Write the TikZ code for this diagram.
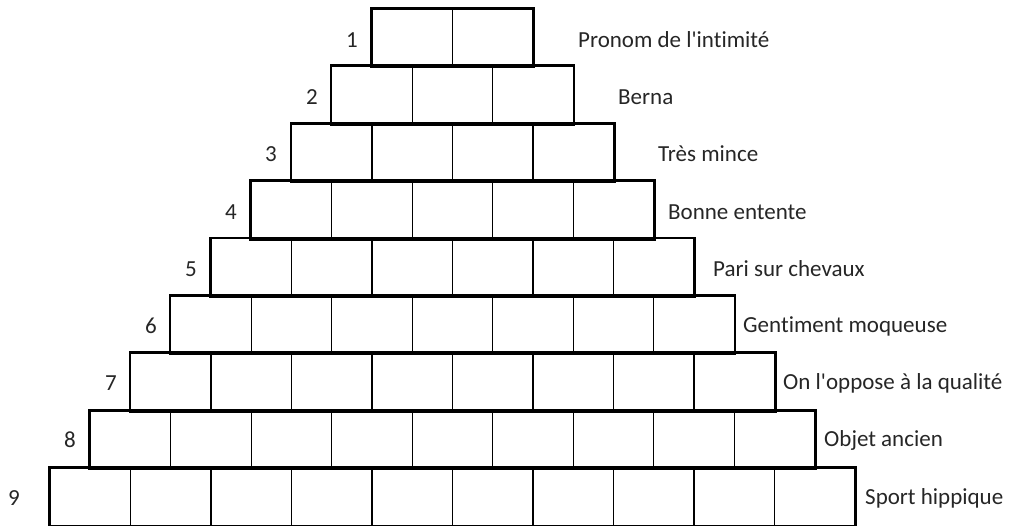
\documentclass[tikz,border=0pt]{standalone}
\usepackage{fontspec}
\setmainfont{Carlito}[Ligatures={TeXOff,NoCommon}]
\begin{document}
\begin{tikzpicture}[x=1pt,y=-1pt,
  cell/.style={draw=black,line width=1.4pt,minimum width=80.5pt,minimum height=57.4pt,inner sep=0pt,anchor=north west},
  rowbox/.style={draw=black,line width=2.6pt},
  num/.style={font=\fontsize{23}{25}\selectfont,text=black!85,anchor=center,inner sep=0pt},
  clue/.style={font=\fontsize{23}{25}\selectfont,text=black!85,anchor=west,inner sep=0pt}]
\useasboundingbox (0,0) rectangle (1011,525);
\foreach \r in {1,...,9}{
  \pgfmathsetmacro{\n}{int(\r+1)}
  \foreach \k in {1,...,\n}{
    \node[cell] (c-\r-\k) at ({371.3-40.25*(\r-1)+80.5*(\k-1)},{8.3+57.4*(\r-1)}) {};
  }
  \draw[rowbox] (c-\r-1.north west) rectangle (c-\r-\n.south east);
}
\node[num] (n1) at (352,40) {1};
\node[num] (n2) at (312,97) {2};
\node[num] (n3) at (271,154) {3};
\node[num] (n4) at (231,212) {4};
\node[num] (n5) at (191,269) {5};
\node[num] (n6) at (151,326) {6};
\node[num] (n7) at (111,383) {7};
\node[num] (n8) at (70,440) {8};
\node[num] (n9) at (14,498) {9};
\node[clue] (l1) at (578,40) {Pronom de l'intimité};
\node[clue] (l2) at (618,97) {Berna};
\node[clue] (l3) at (658,154) {Très mince};
\node[clue] (l4) at (668,212) {Bonne entente};
\node[clue] (l5) at (713,269) {Pari sur chevaux};
\node[clue] (l6) at (743,326) {Gentiment moqueuse};
\node[clue] (l7) at (783,383) {On l'oppose à la qualité};
\node[clue] (l8) at (824,440) {Objet ancien};
\node[clue] (l9) at (865,498) {Sport hippique};
\end{tikzpicture}
\end{document}
